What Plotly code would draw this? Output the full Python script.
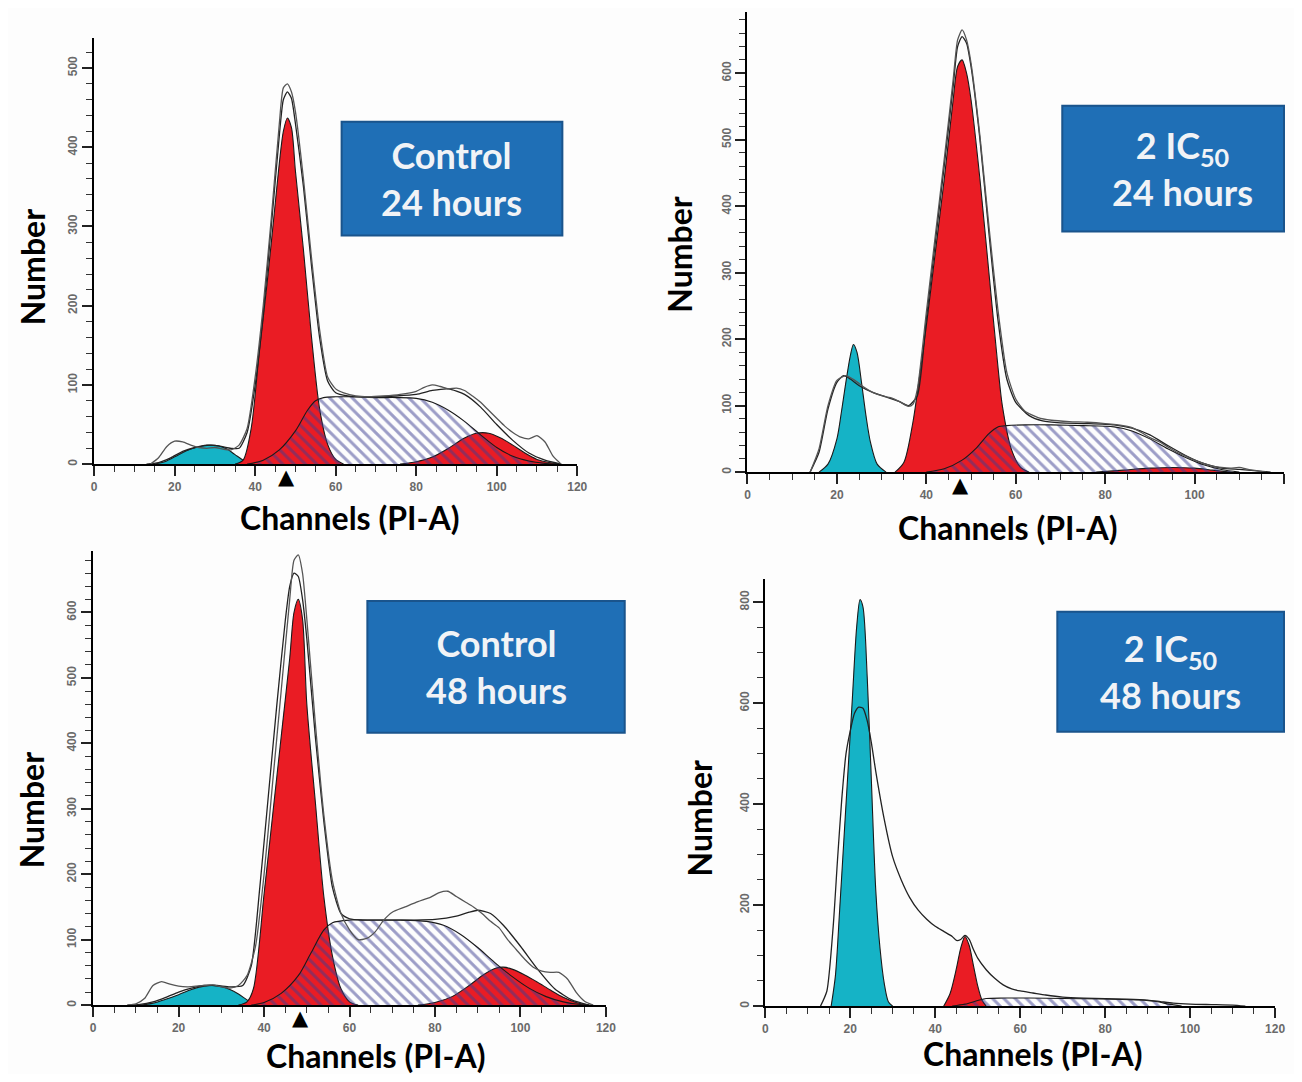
import plotly.graph_objects as go

W, H = 1302, 1082
OFF = 8                      # default page margin of the written html
FW, FH = W - 2 * OFF, H - 2 * OFF

# ---------------- DATA ----------------
# Panel 1: Control 24 hours
P1_CYAN_X = [15, 18, 21, 24, 27, 29, 31, 33, 35, 37, 39]
P1_CYAN_Y = [0, 4, 12, 19, 23, 24, 23, 19, 12, 5, 0]
P1_G1_X = [35, 37, 39, 41, 43, 45, 46, 47, 48, 49, 50, 52, 54, 56, 58, 60, 62]
P1_G1_Y = [0, 5, 45, 140, 230, 330, 380, 420, 437, 425, 370, 270, 160, 70, 25, 6, 0]
P1_S_X = [38, 42, 46, 50, 53, 55, 57, 60, 65, 70, 75, 80, 84, 88, 92, 96, 100, 104, 108, 112, 115]
P1_S_Y = [0, 5, 18, 42, 68, 80, 84, 85, 85, 84, 84, 83, 78, 68, 54, 37, 21, 10, 4, 1, 0]
P1_G2_X = [76, 80, 84, 88, 92, 95, 98, 101, 104, 107, 110, 113, 116]
P1_G2_Y = [0, 3, 9, 20, 33, 39, 39, 33, 24, 14, 6, 2, 0]
P1_FIT_X = [13, 16, 19, 22, 25, 28, 31, 34, 36, 38, 40, 42, 44, 46, 47, 48, 49, 50, 52, 54, 56, 58, 60,
            63, 66, 70, 75, 80, 84, 88, 92, 96, 100, 104, 108, 112, 116]
P1_FIT_Y = [0, 2, 8, 16, 21, 24, 23, 20, 20, 40, 100, 190, 300, 415, 460, 470, 462, 430, 350, 250, 160,
            105, 90, 86, 85, 85, 86, 88, 93, 95, 88, 72, 50, 30, 14, 5, 0]
P1_RAW_X = [14, 16, 18, 20, 22, 24, 26, 28, 30, 32, 34, 36, 38, 40, 42, 44, 46, 47, 48, 49, 50, 52, 54,
            56, 58, 60, 62, 65, 68, 72, 76, 80, 82, 84, 86, 88, 90, 92, 94, 96, 98, 100, 102, 104, 106,
            108, 110, 112, 114, 116]
P1_RAW_Y = [0, 8, 22, 29, 28, 24, 21, 20, 21, 19, 18, 24, 45, 110, 200, 310, 430, 475, 480, 470, 445,
            360, 260, 170, 110, 95, 90, 86, 85, 86, 88, 92, 97, 100, 98, 95, 96, 93, 86, 78, 68, 58, 48,
            40, 34, 32, 36, 28, 10, 0]
P1_MARK = 47.7

# Panel 2: 2 IC50 24 hours
P2_CYAN_X = [16, 18, 20, 21, 22, 23, 23.7, 24.5, 25.5, 26.5, 27.5, 29, 31]
P2_CYAN_Y = [0, 12, 50, 90, 135, 175, 192, 180, 135, 85, 45, 12, 0]
P2_G1_X = [33, 35, 37, 38, 40, 42, 44, 46, 47, 48, 49, 50, 52, 54, 56, 57, 59, 61, 63]
P2_G1_Y = [0, 15, 75, 120, 220, 330, 440, 560, 610, 620, 600, 560, 440, 300, 160, 100, 35, 8, 0]
P2_S_X = [40, 44, 48, 51, 54, 56, 58, 62, 68, 75, 82, 86, 90, 94, 98, 102, 106, 110]
P2_S_Y = [0, 5, 18, 35, 58, 68, 70, 71, 71, 70, 68, 62, 50, 35, 22, 11, 4, 0]
P2_G2_X = [78, 84, 90, 95, 100, 104, 108]
P2_G2_Y = [0, 3, 6, 7, 6, 3, 0]
P2_FIT_X = [14, 16, 18, 20, 21.5, 23, 25, 28, 31, 34, 36, 38, 40, 42, 44, 46, 47, 48, 49, 50, 52, 54,
            56, 58, 60, 63, 66, 70, 76, 82, 86, 90, 94, 98, 102, 106, 110, 114, 117]
P2_FIT_Y = [0, 30, 95, 135, 145, 140, 130, 120, 113, 106, 100, 115, 230, 345, 460, 580, 640, 655, 645,
            610, 500, 360, 230, 140, 105, 85, 77, 74, 73, 71, 66, 56, 40, 25, 13, 6, 4, 2, 0]
P2_RAW_X = [14, 16, 18, 20, 22, 24, 26, 28, 30, 32, 34, 36, 37, 38, 40, 42, 44, 46, 47, 48, 49, 50, 52,
            54, 56, 58, 60, 62, 65, 68, 72, 76, 80, 84, 86, 88, 90, 92, 94, 96, 98, 100, 102, 104, 106,
            108, 110, 112, 114, 116]
P2_RAW_Y = [0, 35, 100, 138, 145, 138, 128, 120, 115, 112, 106, 99, 102, 125, 240, 355, 470, 590, 650,
            665, 650, 615, 505, 370, 245, 150, 110, 92, 82, 78, 76, 75, 73, 70, 67, 60, 52, 46, 38, 30,
            24, 18, 13, 9, 7, 6, 7, 4, 2, 0]
P2_MARK = 47.6

# Panel 3: Control 48 hours
P3_CYAN_X = [11, 14, 17, 20, 23, 26, 28, 30, 32, 34, 36, 38]
P3_CYAN_Y = [0, 3, 9, 16, 24, 29, 30, 28, 24, 17, 8, 0]
P3_G1_X = [34, 36, 37.5, 40, 42, 44, 46, 47, 48, 49, 50, 52, 54, 56, 58, 60, 62]
P3_G1_Y = [0, 5, 25, 170, 290, 410, 530, 600, 620, 590, 460, 310, 165, 75, 25, 5, 0]
P3_S_X = [37, 40, 44, 48, 51, 54, 56, 60, 66, 72, 78, 82, 86, 90, 94, 98, 102, 106, 110, 114, 117]
P3_S_Y = [0, 4, 18, 45, 80, 115, 126, 130, 130, 130, 128, 122, 108, 88, 65, 44, 26, 13, 5, 1, 0]
P3_G2_X = [76, 80, 84, 88, 91, 94, 96, 98, 101, 104, 107, 110, 113, 116]
P3_G2_Y = [0, 4, 13, 30, 45, 56, 58, 55, 46, 35, 23, 12, 4, 0]
P3_FIT_X = [8, 11, 14, 17, 20, 23, 26, 29, 32, 35, 37, 39, 41, 43, 45, 46, 47, 48, 49, 50, 52, 54, 56,
            58, 60, 63, 66, 70, 75, 80, 85, 88, 90, 93, 96, 100, 104, 108, 112, 116]
P3_FIT_Y = [0, 1, 5, 12, 20, 26, 30, 30, 28, 30, 60, 180, 320, 460, 590, 640, 660, 655, 620, 560, 410,
            280, 180, 140, 132, 130, 130, 130, 130, 131, 136, 142, 145, 140, 122, 90, 55, 25, 8, 0]
P3_RAW_X = [8, 10, 12, 14, 16, 18, 20, 22, 24, 26, 28, 30, 32, 34, 36, 38, 40, 42, 44, 46, 47, 48, 49,
            50, 52, 54, 56, 58, 60, 62, 64, 66, 68, 70, 73, 76, 79, 81, 83, 85, 87, 89, 91, 93, 95, 97,
            99, 101, 103, 105, 107, 109, 111, 113, 115, 117]
P3_RAW_Y = [0, 2, 10, 30, 36, 32, 29, 28, 29, 30, 31, 28, 26, 30, 45, 90, 200, 340, 480, 620, 680, 688,
            660, 590, 430, 290, 190, 140, 115, 100, 102, 112, 130, 142, 150, 158, 165, 172, 174, 166,
            158, 150, 140, 128, 118, 100, 85, 70, 58, 52, 50, 50, 40, 20, 6, 0]
P3_MARK = 48.5

# Panel 4: 2 IC50 48 hours
P4_CYAN_X = [15.5, 16.5, 17.5, 18.5, 19.5, 20.5, 21.5, 22.3, 23, 24, 25, 26, 27, 28, 29, 30]
P4_CYAN_Y = [0, 60, 190, 330, 470, 610, 750, 805, 790, 650, 440, 230, 115, 45, 8, 0]
P4_G1_X = [42, 43.5, 45, 46, 47, 48, 49, 50, 51, 52]
P4_G1_Y = [0, 25, 75, 115, 138, 120, 80, 40, 12, 0]
P4_S_X = [44, 47, 50, 52, 56, 62, 70, 80, 88, 92, 95, 98]
P4_S_Y = [0, 4, 11, 15, 16, 16, 15, 14, 12, 9, 4, 0]
P4_RAW_X = [13, 14.5, 16, 17, 18, 19, 20, 21, 22, 23, 24, 25, 26, 28, 30, 32, 34, 36, 38, 40, 42, 44,
            45, 46, 47, 48, 49, 50, 52, 54, 56, 58, 60, 63, 66, 70, 75, 80, 85, 90, 93, 96, 100, 105,
            110, 113]
P4_RAW_Y = [0, 30, 160, 290, 410, 500, 545, 580, 592, 590, 565, 520, 465, 370, 295, 250, 215, 190, 172,
            158, 148, 138, 130, 132, 140, 132, 112, 95, 72, 55, 42, 34, 30, 26, 22, 18, 16, 15, 14, 12,
            9, 6, 4, 3, 2, 0]

LABEL_LINES = [("Control", "24 hours"), ("2 IC<sub>50</sub>", "24 hours"),
               ("Control", "48 hours"), ("2 IC<sub>50</sub>", "48 hours")]
X_TITLE = "Channels (PI-A)"
Y_TITLE = "Number"

# ---------------- STYLE / LAYOUT ----------------
RED = "#ea1c24"
CYAN = "#15b3c6"
HATCH = "#3c3d92"
BOX = "#1f6fb6"


def pxx(x):
    return min(1.0, max(0.0, (x - OFF) / FW))


def pyy(y):
    return min(1.0, max(0.0, 1 - (y - OFF) / FH))


GEOM = [
    dict(dx=0, x0=92, x1=580, y0=465, ytop=38, ymax=538, major=100, minor=20,
         box=(342, 122, 565, 236), ytitle=(30, 268), xtitle=(350, 518), textcx=453),
    dict(dx=7, x0=745, x1=1287, y0=473, ytop=12, ymax=692, major=100, minor=20,
         box=(1063, 106, 1320, 232), ytitle=(676, 255), xtitle=(1008, 528), textcx=1184),
    dict(dx=1, x0=90, x1=608, y0=1007, ytop=552, ymax=694, major=100, minor=20,
         box=(367, 602, 627, 734), ytitle=(28, 812), xtitle=(375, 1057), textcx=497),
    dict(dx=7, x0=763, x1=1278, y0=1008, ytop=580, ymax=846, major=200, minor=50,
         box=(1058, 613, 1287, 733), ytitle=(697, 820), xtitle=(1033, 1055), textcx=1172),
]

PANELS = [
    dict(cyan=(P1_CYAN_X, P1_CYAN_Y), g1=(P1_G1_X, P1_G1_Y), s=(P1_S_X, P1_S_Y), g2=(P1_G2_X, P1_G2_Y),
         lines=[(P1_FIT_X, P1_FIT_Y), (P1_RAW_X, P1_RAW_Y)], mark=P1_MARK),
    dict(cyan=(P2_CYAN_X, P2_CYAN_Y), g1=(P2_G1_X, P2_G1_Y), s=(P2_S_X, P2_S_Y), g2=(P2_G2_X, P2_G2_Y),
         lines=[(P2_FIT_X, P2_FIT_Y), (P2_RAW_X, P2_RAW_Y)], mark=P2_MARK),
    dict(cyan=(P3_CYAN_X, P3_CYAN_Y), g1=(P3_G1_X, P3_G1_Y), s=(P3_S_X, P3_S_Y), g2=(P3_G2_X, P3_G2_Y),
         lines=[(P3_FIT_X, P3_FIT_Y), (P3_RAW_X, P3_RAW_Y)], mark=P3_MARK),
    dict(cyan=(P4_CYAN_X, P4_CYAN_Y), g1=(P4_G1_X, P4_G1_Y), s=(P4_S_X, P4_S_Y), g2=None,
         lines=[(P4_RAW_X, P4_RAW_Y)], mark=None),
]

fig = go.Figure()
shapes, annotations = [], []
layout = {}
TICKFONT = dict(family="Liberation Sans, Arial", size=12, color="#6a6a6a", weight="bold")

for i, (g, p) in enumerate(zip(GEOM, PANELS), start=1):
    xa = "x" if i == 1 else f"x{i}"
    ya = "y" if i == 1 else f"y{i}"
    dx = g["dx"]
    common = dict(xaxis=xa, yaxis=ya, showlegend=False, hoverinfo="skip")

    def area(data, color, pattern=False):
        x, y = data
        kw = dict(x=x, y=y, mode="lines",
                  line=dict(color="#1a1a1a", width=1.1, shape="spline", smoothing=0.8),
                  fill="tozeroy", **common)
        if pattern:
            kw["fillcolor"] = "rgba(255,255,255,0)"
            kw["fillpattern"] = dict(shape="\\", fgcolor=HATCH, bgcolor="rgba(255,255,255,0)",
                                     size=8, solidity=0.38)
        else:
            kw["fillcolor"] = color
        fig.add_trace(go.Scatter(**kw))

    area(p["cyan"], CYAN)
    area(p["g1"], RED)
    if p["g2"] is not None:
        area(p["g2"], RED)
    area(p["s"], None, pattern=True)
    for (lx, ly), col in zip(p["lines"], ["#222222", "#555555"]):
        fig.add_trace(go.Scatter(x=lx, y=ly, mode="lines",
                                 line=dict(color=col, width=1.3, shape="spline", smoothing=0.6),
                                 **common))
    if p["mark"] is not None:
        annotations.append(dict(xref=xa, yref=f"{ya} domain", x=p["mark"], y=0, text="▲",
                                showarrow=False, xanchor="center", yanchor="top", yshift=1,
                                font=dict(family="DejaVu Sans", size=21, color="black")))

    xdom = [pxx(g["x0"] + dx), pxx(g["x1"] + dx)]
    ydom = [pyy(g["y0"]), pyy(g["ytop"])]
    axkey_x = "xaxis" if i == 1 else f"xaxis{i}"
    axkey_y = "yaxis" if i == 1 else f"yaxis{i}"
    layout[axkey_x] = dict(domain=xdom, anchor=ya, range=[0, 120], showgrid=False, zeroline=False,
                           showline=True, linecolor="black", linewidth=2,
                           ticks="outside", ticklen=10, tickwidth=1.6, tickcolor="#222", dtick=20,
                           tick0=0,
                           minor=dict(ticks="outside", ticklen=6, dtick=5, tickcolor="#333",
                                      tickwidth=1.4, showgrid=False),
                           tickfont=TICKFONT, fixedrange=True)
    layout[axkey_y] = dict(domain=ydom, anchor=xa, range=[0, g["ymax"]], showgrid=False,
                           zeroline=False, showline=True, linecolor="black", linewidth=2,
                           ticks="outside", ticklen=10, tickwidth=1.6, tickcolor="#222",
                           dtick=g["major"], tick0=0, tickangle=-90,
                           minor=dict(ticks="outside", ticklen=6, dtick=g["minor"],
                                      tickcolor="#333", tickwidth=1.4, showgrid=False),
                           tickfont=TICKFONT, fixedrange=True)

    bx0, by0, bx1, by1 = g["box"]
    shapes.append(dict(type="rect", xref="paper", yref="paper", x0=pxx(bx0 + dx), x1=pxx(bx1 + dx),
                       y0=pyy(by1), y1=pyy(by0), fillcolor=BOX,
                       line=dict(color="#1a548c", width=2), layer="above"))
    l1, l2 = LABEL_LINES[i - 1]
    annotations.append(dict(xref="paper", yref="paper", x=pxx(g["textcx"] + dx),
                            y=pyy((by0 + by1) / 2), text=f"{l1}<br>{l2}", showarrow=False,
                            font=dict(family="Lato", size=36, color="#f1f3f6", weight="bold"),
                            xanchor="center", yanchor="middle"))
    tx, ty = g["ytitle"]
    annotations.append(dict(xref="paper", yref="paper", x=pxx(tx + dx), y=pyy(ty),
                            text=f"<b>{Y_TITLE}</b>", textangle=-90, showarrow=False,
                            xanchor="center", yanchor="middle",
                            font=dict(family="Lato", size=32, color="black")))
    tx, ty = g["xtitle"]
    annotations.append(dict(xref="paper", yref="paper", x=pxx(tx + dx), y=pyy(ty),
                            text=f"<b>{X_TITLE}</b>", showarrow=False,
                            xanchor="center", yanchor="middle",
                            font=dict(family="Lato", size=32, color="black")))

fig.update_layout(width=FW, height=FH, margin=dict(l=0, r=0, t=0, b=0),
                  paper_bgcolor="#fdfdfd", plot_bgcolor="#fdfdfd",
                  shapes=shapes, annotations=annotations, **layout)

fig.write_html("out.html")
